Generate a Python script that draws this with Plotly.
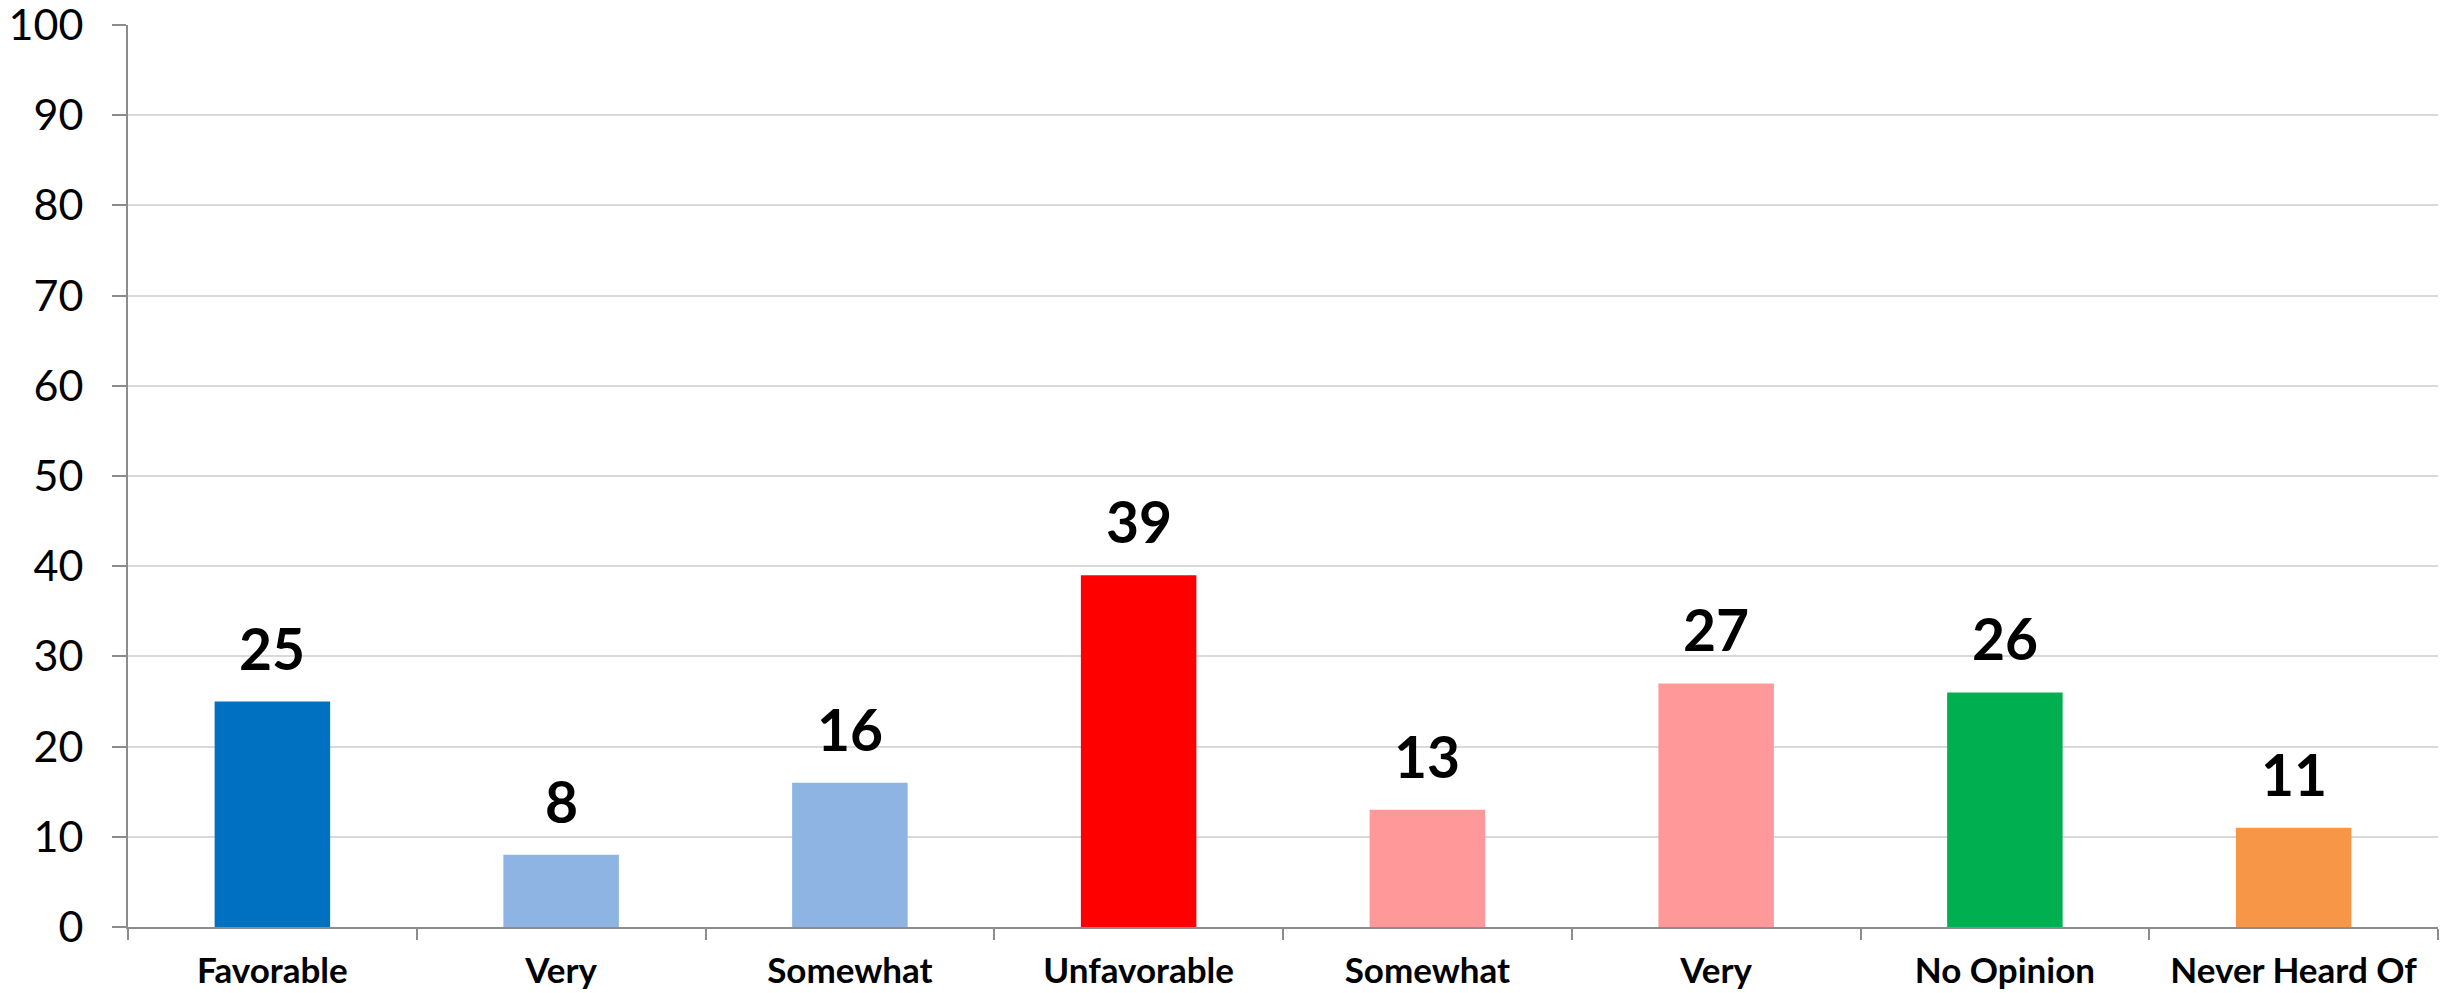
import plotly.graph_objects as go

# category ids (unique) and the text shown under each bar
cat_ids = ["fav", "fav_very", "fav_somewhat", "unfav", "unfav_somewhat", "unfav_very", "no_opinion", "never_heard"]
cat_labels = ["Favorable", "Very", "Somewhat", "Unfavorable", "Somewhat", "Very", "No Opinion", "Never Heard Of"]
values = [25, 8, 16, 39, 13, 27, 26, 11]
colors = ["#0070C0", "#8EB4E3", "#8EB4E3", "#FF0000", "#FF9999", "#FF9999", "#00B050", "#F79646"]

FONT = "Lato, 'Open Sans', sans-serif"

fig = go.Figure()
fig.add_trace(go.Bar(
    x=cat_ids, y=values,
    marker=dict(color=colors, line=dict(width=0)),
    width=0.4,
    hoverinfo="skip",
))

# value labels above the bars
for c, v in zip(cat_ids, values):
    fig.add_annotation(
        x=c, y=v, text="<b>%d</b>" % v, showarrow=False,
        yanchor="bottom", yshift=18,
        font=dict(family=FONT, size=57, color="black"),
    )

# page body has an 8px margin, so the figure is offset by 8px
fig.update_layout(
    width=2447, height=985,
    margin=dict(l=120, r=17, t=17, b=66, autoexpand=False),
    paper_bgcolor="white", plot_bgcolor="white",
    showlegend=False,
    font=dict(family=FONT),
)
fig.update_xaxes(
    type="category",
    tickmode="array", tickvals=cat_ids,
    ticktext=["<b>%s</b>" % t for t in cat_labels],
    tickson="boundaries",
    ticks="outside", ticklen=11, tickwidth=2, tickcolor="#8C8C8C",
    showline=True, linecolor="#8C8C8C", linewidth=2,
    showgrid=False,
    tickfont=dict(family=FONT, size=35, color="black"),
    ticklabelstandoff=12,
    ticklabeloverflow="allow",
    automargin=False,
)
fig.update_yaxes(
    range=[0, 100], dtick=10,
    ticks="outside", ticklen=14, tickwidth=2, tickcolor="#8C8C8C",
    showline=True, linecolor="#8C8C8C", linewidth=2,
    showgrid=True, gridcolor="#D9D9D9", gridwidth=2,
    zeroline=False,
    tickfont=dict(family=FONT, size=43, color="black"),
    ticklabelstandoff=20,
    ticklabeloverflow="allow",
    automargin=False,
)

fig.write_html("out.html")
